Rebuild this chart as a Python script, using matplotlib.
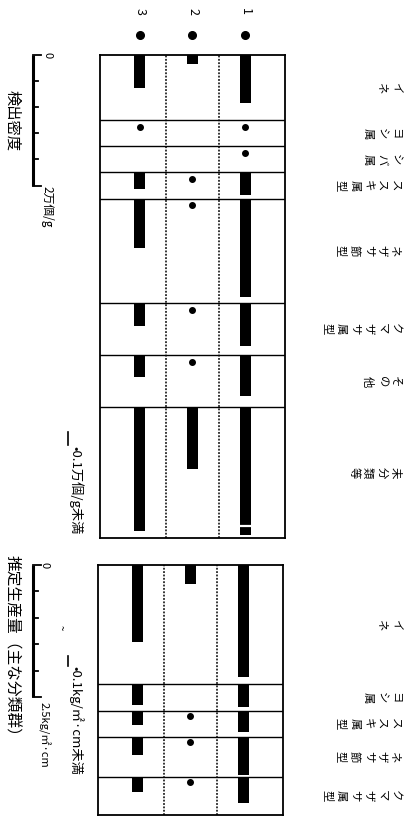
import matplotlib
matplotlib.use("Agg")
import matplotlib.pyplot as plt
import numpy as np
from matplotlib.transforms import blended_transform_factory

plt.rcParams['font.family'] = ['Noto Sans CJK JP', 'DejaVu Sans']

# 試料番号 (図の左から 3, 2, 1)
samples = ['1', '2', '3']

# 検出密度 (万個/g)  0.05 = 0.1万個/g未満 (点), 0 = 未検出
top_taxa = ['イネ', 'ヨシ属', 'シバ属', 'ススキ属型', 'ネザサ節型', 'クマザサ属型', 'その他', '未分類等']
top_s1 = [0.74, 0.05, 0.05, 0.35, 1.51, 0.66, 0.62, 1.95]
top_s2 = [0.14, 0, 0, 0.05, 0.05, 0.05, 0.05, 0.95]
top_s3 = [0.51, 0.05, 0, 0.26, 0.75, 0.35, 0.34, 1.89]

# 推定生産量 (kg/㎡・cm)  0.05 = 0.1kg/㎡・cm未満 (点)
bot_taxa = ['イネ', 'ヨシ属', 'ススキ属型', 'ネザサ節型', 'クマザサ属型']
bot_s1 = [2.11, 0.43, 0.40, 0.72, 0.49]
bot_s2 = [0.36, 0, 0.05, 0.05, 0.05]
bot_s3 = [1.45, 0.40, 0.28, 0.34, 0.28]

# レイアウト (各分類群の欄の幅, データ単位)
top_widths = [1.0, 0.4, 0.4, 0.4, 1.6, 0.8, 0.8, 2.0]
bot_widths = [2.25, 0.5, 0.5, 0.75, 0.72]
xpos = {'1': 2, '2': 1, '3': 0}

W, H = 406, 817
fig = plt.figure(figsize=(W / 100, H / 100), dpi=100)


def add_ax(x0, y0, x1, y1):
    return fig.add_axes([x0 / W, 1 - y1 / H, (x1 - x0) / W, (y1 - y0) / H])


def panel(ax, taxa, series, widths):
    edges = np.concatenate([[0], np.cumsum(widths)])
    ax.set_xlim(-0.75, 2.75)
    ax.set_ylim(edges[-1], 0)
    ax.set_xticks([])
    ax.set_yticks([])
    for s in ax.spines.values():
        s.set_linewidth(1.3)
    for e in edges[1:-1]:
        ax.axhline(e, color='k', lw=1.0)
    for xv in (0.5, 1.5):
        ax.axvline(xv, color='k', lw=1.1, ls=(0, (1.2, 1.0)))
    for name, vals in zip(samples, series):
        x = xpos[name]
        for top, v in zip(edges[:-1], vals):
            if v >= 0.1:
                ax.bar(x, v, bottom=top, width=0.21, color='k')
            elif v > 0:
                ax.plot(x, top + 0.1, 'o', color='k', ms=4)
    # 分類群名 (縦書き)
    tr = blended_transform_factory(fig.transFigure, ax.transData)
    for i, name in enumerate(taxa):
        yc = (edges[i] + edges[i + 1]) / 2
        for j, ch in enumerate(name):
            ax.text((395 - j * 13.5) / W, yc, ch, transform=tr, rotation=-90,
                    ha='center', va='center', fontsize=8.2)
    return edges, tr


def scale_bar(ax, tr, ticks):
    xb = 33 / W
    ax.plot([xb, xb], [ticks[0], ticks[-1]], color='k', lw=2.2, transform=tr,
            clip_on=False, solid_capstyle='butt')
    for k, t in enumerate(ticks):
        x2 = 41 / W if k in (0, len(ticks) - 1) else 38 / W
        ax.plot([xb, x2], [t, t], color='k', lw=1.3, transform=tr, clip_on=False)


# 上段: 検出密度
ax1 = add_ax(100, 55, 285, 538)
e1, tr1 = panel(ax1, top_taxa, [top_s1, top_s2, top_s3], top_widths)
# 未分類等 試料1 の切れ目
yb = e1[7] + top_s1[7] - 0.14
ax1.plot([1.88, 2.12], [yb, yb], color='w', lw=1.6)

# 試料番号と印
for name in samples:
    ax1.plot(xpos[name], -0.31, 'o', color='k', ms=5.5, clip_on=False)
    ax1.text(xpos[name], -0.66, name, rotation=-90, ha='center', va='center',
             fontsize=9)

scale_bar(ax1, tr1, np.linspace(0, 2, 6))
ax1.text(48 / W, 0.0, '0', transform=tr1, rotation=-90, ha='center',
         va='center', fontsize=8)
ax1.text(47 / W, 2.0, '2万個/g', transform=tr1, rotation=-90, ha='center',
         va='top', fontsize=8.5)
ax1.text(12 / W, 1.0, '検出密度', transform=tr1, rotation=-90, ha='center',
         va='center', fontsize=11)
ax1.plot([68 / W, 68 / W], [5.77, 5.97], color='k', lw=1.2, transform=tr1,
         clip_on=False)
ax1.text(76 / W, 5.99, '•0.1万個/g未満', transform=tr1, rotation=-90,
         ha='center', va='top', fontsize=9.5)

# 下段: 推定生産量
ax2 = add_ax(98, 565, 283, 815)
e2, tr2 = panel(ax2, bot_taxa, [bot_s1, bot_s2, bot_s3], bot_widths)

scale_bar(ax2, tr2, np.linspace(0, 2.5, 6))
ax2.text(45 / W, 0.0, '0', transform=tr2, rotation=-90, ha='center',
         va='center', fontsize=8)
ax2.text(44 / W, 2.58, '2.5kg/㎡·cm', transform=tr2, rotation=-90,
         ha='center', va='top', fontsize=8)
ax2.text(12 / W, 1.6, '推定生産量（主な分類群）', transform=tr2, rotation=-90,
         ha='center', va='center', fontsize=11.3)
ax2.text(61 / W, 1.19, '~', transform=tr2, rotation=-90, ha='center',
         va='center', fontsize=7)
ax2.plot([68 / W, 68 / W], [1.72, 1.9], color='k', lw=1.2, transform=tr2,
         clip_on=False)
ax2.text(76 / W, 1.9, '•0.1kg/㎡·cm未満', transform=tr2, rotation=-90,
         ha='center', va='top', fontsize=9.5)

fig.savefig('out.png', dpi=100)
